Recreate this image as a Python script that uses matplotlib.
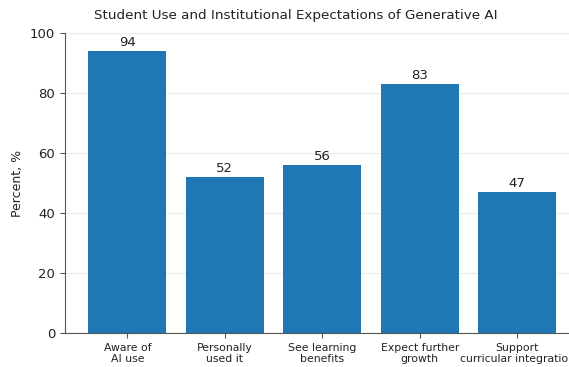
import matplotlib
matplotlib.use("Agg")
import matplotlib.pyplot as plt

categories = ["Aware of\nAI use", "Personally\nused it", "See learning\nbenefits",
              "Expect further\ngrowth", "Support\ncurricular integration"]
values = [94, 52, 56, 83, 47]

txt = "#222222"
fig = plt.figure(figsize=(5.69, 3.67), dpi=100)
ax = fig.add_axes([65/569, 34/367, (579.5-65)/569, 300/367])
x = list(range(len(categories)))
bars = ax.bar(x, values, width=0.8, color="#1f77b4", zorder=2)
for b, v in zip(bars, values):
    ax.annotate(f"{v}", (b.get_x() + b.get_width()/2, v), xytext=(0, 1.5),
                textcoords="offset points", ha="center", va="bottom", fontsize=9.5, color=txt)
ax.set_xticks(x)
ax.set_xticklabels(categories, fontsize=7.8, color=txt)
ax.set_ylim(0, 100)
ax.set_xlim(-0.64, 4.64)
ax.set_ylabel("Percent, %", fontsize=9, color=txt)
ax.tick_params(axis="y", labelsize=9.5, labelcolor=txt, color="#555555")
ax.tick_params(axis="x", color="#555555")
fig.text(296/569, 1 - 16/367, "Student Use and Institutional Expectations of Generative AI",
         fontsize=9.7, ha="center", va="center", color=txt)
ax.yaxis.grid(True, color="#ececec", linewidth=0.8, zorder=0)
ax.set_axisbelow(True)
for s in ["top", "right"]:
    ax.spines[s].set_visible(False)
for s in ["left", "bottom"]:
    ax.spines[s].set_color("#555555")
fig.savefig("out.png", dpi=100)
